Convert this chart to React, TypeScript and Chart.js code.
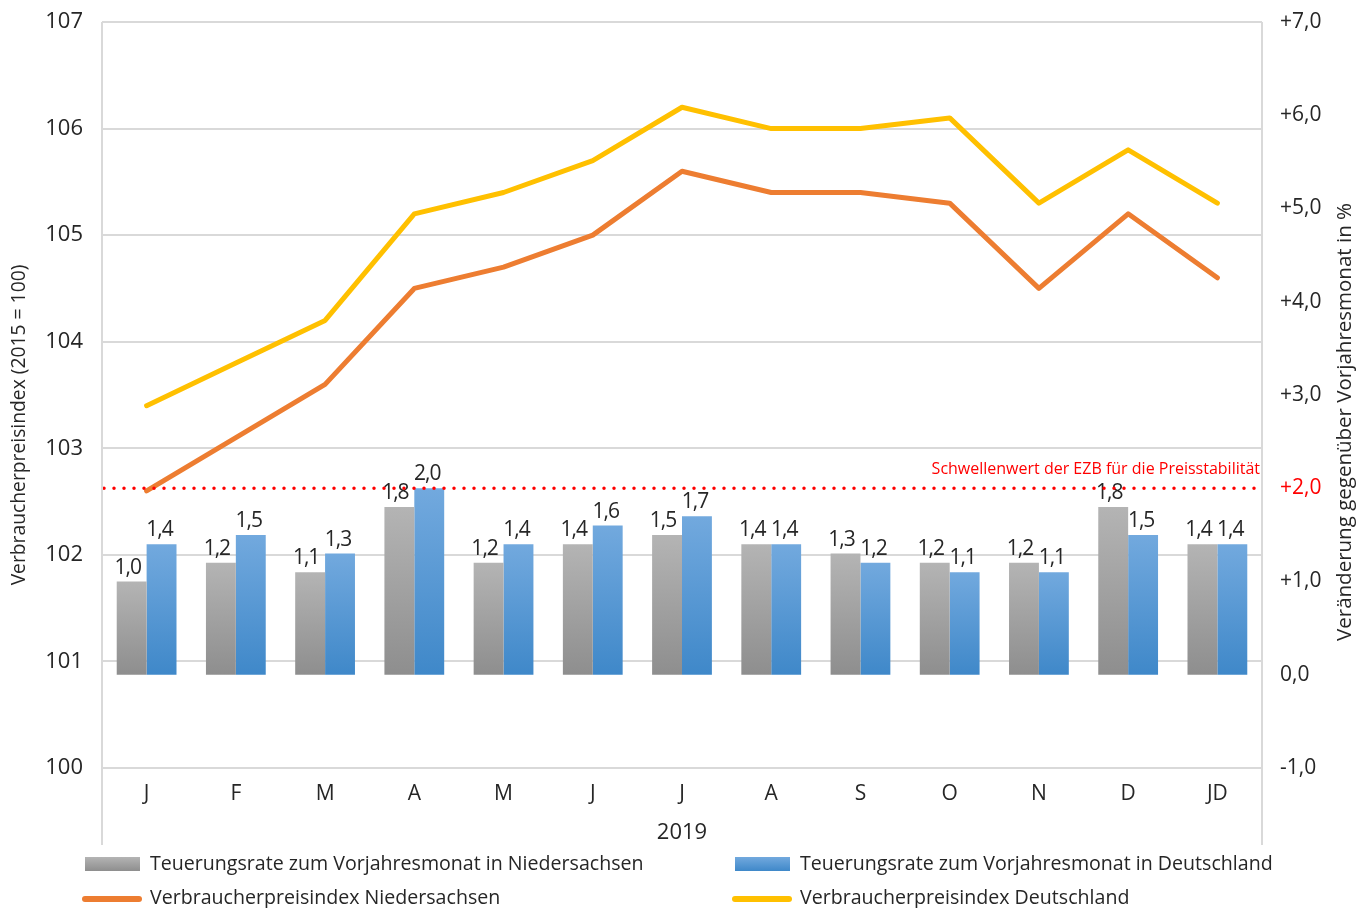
import React, { useEffect, useRef } from "react";
import { Chart, registerables } from "chart.js";

Chart.register(...registerables);

const categories = ["J", "F", "M", "A", "M", "J", "J", "A", "S", "O", "N", "D", "JD"];
const rateNds = [1.0, 1.2, 1.1, 1.8, 1.2, 1.4, 1.5, 1.4, 1.3, 1.2, 1.2, 1.8, 1.4];
const rateDe = [1.4, 1.5, 1.3, 2.0, 1.4, 1.6, 1.7, 1.4, 1.2, 1.1, 1.1, 1.5, 1.4];
const vpiNds = [102.6, 103.1, 103.6, 104.5, 104.7, 105.0, 105.6, 105.4, 105.4, 105.3, 104.5, 105.2, 104.6];
const vpiDe = [103.4, 103.8, 104.2, 105.2, 105.4, 105.7, 106.2, 106.0, 106.0, 106.1, 105.3, 105.8, 105.3];
const thresholdValue = 2.0;
const thresholdLabel = "Schwellenwert der EZB für die Preisstabilität";
const yearLabel = "2019";
const leftTitle = "Verbraucherpreisindex (2015 = 100)";
const rightTitle = "Veränderung gegenüber Vorjahresmonat in %";
const seriesNames = [
  "Teuerungsrate zum Vorjahresmonat in Niedersachsen",
  "Teuerungsrate zum Vorjahresmonat in Deutschland",
  "Verbraucherpreisindex Niedersachsen",
  "Verbraucherpreisindex Deutschland",
];

const FONT = "'Open Sans', 'Noto Sans', sans-serif";
const TEXT = "#262626";
const GRID = "#d9d9d9";
const ORANGE = "#ED7D31";
const YELLOW = "#FFC000";
const RED = "#ff0000";

const fmt = (v: number) => v.toFixed(1).replace(".", ",");

function gradFill(ctx: any, top: string, bottom: string) {
  const chart = ctx.chart;
  if (ctx.type !== "data" || !chart.chartArea) return bottom;
  const y2 = chart.scales.y2;
  const yt = y2.getPixelForValue(ctx.raw);
  const yb = y2.getPixelForValue(0);
  if (!isFinite(yt) || !isFinite(yb) || yt === yb) return bottom;
  const g = chart.ctx.createLinearGradient(0, yt, 0, yb);
  g.addColorStop(0, top);
  g.addColorStop(1, bottom);
  return g;
}

const overlayPlugin = {
  id: "overlay",
  afterDatasetsDraw(chart: any) {
    const { ctx, chartArea } = chart;
    const y2 = chart.scales.y2;
    // data labels
    ctx.save();
    ctx.font = `21px ${FONT}`;
    try {
      (ctx as any).letterSpacing = "-1px";
    } catch (e) {}
    ctx.fillStyle = TEXT;
    ctx.textAlign = "center";
    ctx.textBaseline = "alphabetic";
    [0, 1].forEach((di) => {
      const meta = chart.getDatasetMeta(di);
      const data = chart.data.datasets[di].data as number[];
      const dx = di === 0 ? -4 : -2;
      meta.data.forEach((el: any, i: number) => {
        ctx.fillText(fmt(data[i]), el.x + dx, el.y - 8);
      });
    });
    ctx.restore();
    // threshold dotted line
    const ty = y2.getPixelForValue(thresholdValue);
    ctx.save();
    ctx.strokeStyle = RED;
    ctx.lineWidth = 3.5;
    ctx.lineCap = "round";
    ctx.setLineDash([0, 10]);
    ctx.beginPath();
    ctx.moveTo(chartArea.left + 2, ty);
    ctx.lineTo(chartArea.right + 2, ty);
    ctx.stroke();
    ctx.restore();
    ctx.save();
    ctx.font = `16px ${FONT}`;
    ctx.fillStyle = RED;
    ctx.textAlign = "right";
    ctx.textBaseline = "alphabetic";
    ctx.fillText(thresholdLabel, chartArea.right - 2, ty - 14);
    ctx.restore();
  },
  afterDraw(chart: any) {
    const { ctx, chartArea } = chart;
    // vertical frame lines
    ctx.save();
    ctx.strokeStyle = GRID;
    ctx.lineWidth = 2;
    ctx.beginPath();
    ctx.moveTo(chartArea.left, chartArea.top);
    ctx.lineTo(chartArea.left, 845);
    ctx.moveTo(chartArea.right, chartArea.top);
    ctx.lineTo(chartArea.right, 845);
    ctx.stroke();
    ctx.restore();
    // year label
    ctx.save();
    ctx.font = `22px ${FONT}`;
    ctx.fillStyle = TEXT;
    ctx.textAlign = "center";
    ctx.textBaseline = "middle";
    ctx.fillText(yearLabel, (chartArea.left + chartArea.right) / 2, 833);
    ctx.restore();
    // axis titles
    ctx.save();
    ctx.font = `19.3px ${FONT}`;
    ctx.fillStyle = TEXT;
    ctx.textAlign = "center";
    ctx.textBaseline = "middle";
    ctx.translate(20, 425);
    ctx.rotate(-Math.PI / 2);
    ctx.fillText(leftTitle, 0, 0);
    ctx.restore();
    ctx.save();
    ctx.font = `20.5px ${FONT}`;
    ctx.fillStyle = TEXT;
    ctx.textAlign = "center";
    ctx.textBaseline = "middle";
    ctx.translate(1345, 422);
    ctx.rotate(-Math.PI / 2);
    ctx.fillText(rightTitle, 0, 0);
    ctx.restore();
    // legend
    const drawBox = (x: number, y: number, top: string, bottom: string) => {
      const g = ctx.createLinearGradient(0, y - 7, 0, y + 7);
      g.addColorStop(0, top);
      g.addColorStop(1, bottom);
      ctx.fillStyle = g;
      ctx.fillRect(x, y - 7, 55, 14);
    };
    const drawLine = (x: number, y: number, color: string) => {
      ctx.strokeStyle = color;
      ctx.lineWidth = 6;
      ctx.lineCap = "round";
      ctx.beginPath();
      ctx.moveTo(x + 3, y);
      ctx.lineTo(x + 57, y);
      ctx.stroke();
    };
    ctx.save();
    drawBox(85, 864, "#b4b4b4", "#8e8e8e");
    drawBox(735, 864, "#72a9de", "#3f88c9");
    drawLine(82, 899, ORANGE);
    drawLine(732, 899, YELLOW);
    ctx.font = `19.6px ${FONT}`;
    ctx.fillStyle = TEXT;
    ctx.textAlign = "left";
    ctx.textBaseline = "middle";
    ctx.fillText(seriesNames[0], 150, 864);
    ctx.fillText(seriesNames[1], 800, 864);
    ctx.fillText(seriesNames[2], 150, 898);
    ctx.fillText(seriesNames[3], 800, 898);
    ctx.restore();
  },
};

export default function App() {
  const ref = useRef<HTMLCanvasElement | null>(null);
  useEffect(() => {
    document.body.style.margin = "0";
    const canvas = ref.current;
    if (!canvas) return;
    const chart = new Chart(canvas, {
      type: "bar",
      data: {
        labels: categories,
        datasets: [
          {
            type: "bar",
            label: seriesNames[0],
            data: rateNds,
            yAxisID: "y2",
            backgroundColor: (c: any) => gradFill(c, "#b4b4b4", "#8e8e8e"),
            categoryPercentage: 0.67,
            barPercentage: 1.0,
            order: 2,
          },
          {
            type: "bar",
            label: seriesNames[1],
            data: rateDe,
            yAxisID: "y2",
            backgroundColor: (c: any) => gradFill(c, "#72a9de", "#3f88c9"),
            categoryPercentage: 0.67,
            barPercentage: 1.0,
            order: 2,
          },
          {
            type: "line",
            label: seriesNames[2],
            data: vpiNds,
            yAxisID: "y",
            borderColor: ORANGE,
            backgroundColor: ORANGE,
            borderWidth: 5,
            pointRadius: 0,
            tension: 0,
            borderCapStyle: "round",
            borderJoinStyle: "round",
            order: 0,
          },
          {
            type: "line",
            label: seriesNames[3],
            data: vpiDe,
            yAxisID: "y",
            borderColor: YELLOW,
            backgroundColor: YELLOW,
            borderWidth: 5,
            pointRadius: 0,
            tension: 0,
            borderCapStyle: "round",
            borderJoinStyle: "round",
            order: 0,
          },
        ] as any,
      },
      options: {
        animation: false,
        responsive: true,
        maintainAspectRatio: false,
        layout: { padding: { top: 22, left: 0, right: 0, bottom: 0 } },
        plugins: {
          legend: { display: false },
          tooltip: { enabled: false },
        },
        scales: {
          x: {
            type: "category",
            offset: true,
            grid: { display: false, drawTicks: false },
            border: { display: false },
            ticks: {
              font: { family: FONT, size: 21 },
              color: TEXT,
              padding: 13,
              maxRotation: 0,
              autoSkip: false,
            },
            afterFit: (s: any) => {
              s.height = 140;
              s.paddingLeft = 0;
              s.paddingRight = 0;
            },
          },
          y: {
            position: "left",
            min: 100,
            max: 107,
            ticks: {
              stepSize: 1,
              font: { family: FONT, size: 22 },
              color: TEXT,
              padding: 19,
            },
            grid: { color: GRID, lineWidth: 2, drawTicks: false },
            border: { display: false },
            afterFit: (s: any) => {
              s.width = 102;
              s.paddingTop = 0;
              s.paddingBottom = 0;
            },
          },
          y2: {
            position: "right",
            min: -1,
            max: 7,
            ticks: {
              stepSize: 1,
              font: { family: FONT, size: 21 },
              color: (c: any) => (c.tick && c.tick.value === thresholdValue ? RED : TEXT),
              padding: 18,
              callback: (v: any) => {
                const n = Number(v);
                if (n > 0) return "+" + fmt(n);
                return fmt(n);
              },
            },
            grid: { display: false, drawTicks: false },
            border: { display: false },
            afterFit: (s: any) => {
              s.width = 95;
              s.paddingTop = 0;
              s.paddingBottom = 0;
            },
          },
        },
      } as any,
      plugins: [overlayPlugin],
    });
    return () => chart.destroy();
  }, []);
  return (
    <div style={{ position: "fixed", left: 0, top: 0, width: 1357, height: 908, background: "#fff" }}>
      <canvas ref={ref} />
    </div>
  );
}
